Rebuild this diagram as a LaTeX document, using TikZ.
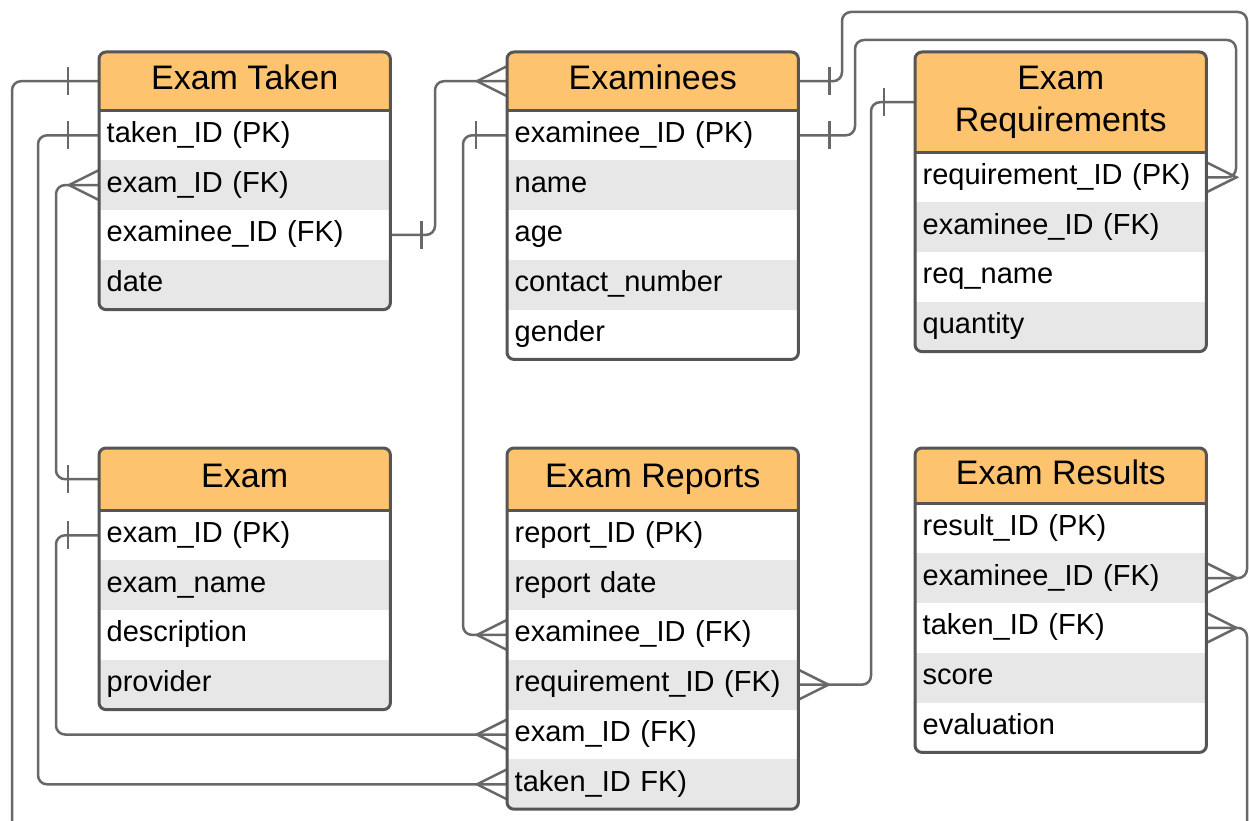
\documentclass[tikz,border=0pt]{standalone}
\usepackage{fontspec}
\setmainfont{Liberation Sans}
\usetikzlibrary{backgrounds,calc}
\definecolor{hdrc}{HTML}{FDC36E}
\definecolor{rowg}{HTML}{E7E7E7}
\definecolor{bordc}{HTML}{555555}
\definecolor{connc}{HTML}{686868}
\tikzset{
 hdr/.style={rectangle, anchor=north west, minimum width=291pt, inner sep=0pt, font=\fontsize{34}{42}\selectfont, align=center},
 hdrone/.style={hdr, text height=25pt, text depth=7.7pt},
 row/.style={rectangle, anchor=north west, minimum height=49.4pt, text width=276pt, inner xsep=7.5pt, inner ysep=0pt, text height=21pt, text depth=7pt, font=\fontsize{29}{34}\selectfont, align=left},
 tbl/.style={draw=bordc, line width=3pt, rounded corners=7pt},
 sep/.style={draw=bordc, line width=3pt},
 conn/.style={draw=connc, line width=2.5pt},
 route/.style={conn, rounded corners=9pt},
}
\newcommand\crowL[1]{\draw[conn] ([yshift=15pt]#1) -- ([xshift=-30pt]#1) -- ([yshift=-15pt]#1);}
\newcommand\crowR[1]{\draw[conn] ([yshift=15pt]#1) -- ([xshift=30pt]#1) -- ([yshift=-15pt]#1);}
\newcommand\barL[1]{\draw[conn] ([xshift=-31pt,yshift=14pt]#1) -- ([xshift=-31pt,yshift=-14pt]#1);}
\newcommand\barR[1]{\draw[conn] ([xshift=31pt,yshift=14pt]#1) -- ([xshift=31pt,yshift=-14pt]#1);}
\begin{document}
\begin{tikzpicture}[x=1pt,y=-1pt]
\useasboundingbox (0,0) rectangle (1249,821);
\clip (0,0) rectangle (1249,821);
% lanes
\coordinate (laneA) at (12,0);
\coordinate (laneB) at (38,0);
\coordinate (laneC) at (56,0);
\coordinate (laneD) at (435,0);
\coordinate (laneE) at (463,0);
\coordinate (laneF) at (842,0);
\coordinate (laneG) at (855,0);
\coordinate (laneH) at (871,0);
\coordinate (laneJ) at (1236,0);
\coordinate (laneI) at (1247,0);
\coordinate (railT) at (0,12);
\coordinate (railU) at (0,40);
\coordinate (bot) at (0,870);

% Exam Taken
\node[hdrone, minimum height=58pt] (et-h) at (99,52) {Exam Taken};
\node[row] (et-1) at (et-h.south west) {taken\_ID (PK)};
\node[row] (et-2) at (et-1.south west) {exam\_ID (FK)};
\node[row] (et-3) at (et-2.south west) {examinee\_ID (FK)};
\node[row] (et-4) at (et-3.south west) {date};
% Examinees
\node[hdrone, minimum height=58pt] (em-h) at (507,52) {Examinees};
\node[row] (em-1) at (em-h.south west) {examinee\_ID (PK)};
\node[row] (em-2) at (em-1.south west) {name};
\node[row] (em-3) at (em-2.south west) {age};
\node[row] (em-4) at (em-3.south west) {contact\_number};
\node[row] (em-5) at (em-4.south west) {gender};
% Exam Requirements
\node[hdr, minimum height=100pt] (rq-h) at (915,52) {Exam\\Requirements};
\node[row] (rq-1) at (rq-h.south west) {requirement\_ID (PK)};
\node[row] (rq-2) at (rq-1.south west) {examinee\_ID (FK)};
\node[row] (rq-3) at (rq-2.south west) {req\_name};
\node[row] (rq-4) at (rq-3.south west) {quantity};
% Exam
\node[hdrone, minimum height=62pt] (ex-h) at (99,448) {Exam};
\node[row] (ex-1) at (ex-h.south west) {exam\_ID (PK)};
\node[row] (ex-2) at (ex-1.south west) {exam\_name};
\node[row] (ex-3) at (ex-2.south west) {description};
\node[row] (ex-4) at (ex-3.south west) {provider};
% Exam Reports
\node[hdrone, minimum height=62pt] (rp-h) at (507,448) {Exam Reports};
\node[row] (rp-1) at (rp-h.south west) {report\_ID (PK)};
\node[row] (rp-2) at (rp-1.south west) {report date};
\node[row] (rp-3) at (rp-2.south west) {examinee\_ID (FK)};
\node[row] (rp-4) at (rp-3.south west) {requirement\_ID (FK)};
\node[row] (rp-5) at (rp-4.south west) {exam\_ID (FK)};
\node[row] (rp-6) at (rp-5.south west) {taken\_ID FK)};
% Exam Results
\node[hdrone, minimum height=55pt] (rs-h) at (915,448) {Exam Results};
\node[row] (rs-1) at (rs-h.south west) {result\_ID (PK)};
\node[row] (rs-2) at (rs-1.south west) {examinee\_ID (FK)};
\node[row] (rs-3) at (rs-2.south west) {taken\_ID (FK)};
\node[row] (rs-4) at (rs-3.south west) {score};
\node[row] (rs-5) at (rs-4.south west) {evaluation};

\begin{scope}[on background layer]
 \begin{scope}
  \clip[rounded corners=7pt] (et-h.north west) rectangle (et-4.south east);
  \fill[white] (et-h.north west) rectangle (et-4.south east);
  \fill[hdrc] (et-h.north west) rectangle (et-h.south east);
  \fill[rowg] (et-2.north west) rectangle (et-2.south east);
  \fill[rowg] (et-4.north west) rectangle (et-4.south east);
 \end{scope}
 \begin{scope}
  \clip[rounded corners=7pt] (em-h.north west) rectangle (em-5.south east);
  \fill[white] (em-h.north west) rectangle (em-5.south east);
  \fill[hdrc] (em-h.north west) rectangle (em-h.south east);
  \fill[rowg] (em-2.north west) rectangle (em-2.south east);
  \fill[rowg] (em-4.north west) rectangle (em-4.south east);
 \end{scope}
 \begin{scope}
  \clip[rounded corners=7pt] (rq-h.north west) rectangle (rq-4.south east);
  \fill[white] (rq-h.north west) rectangle (rq-4.south east);
  \fill[hdrc] (rq-h.north west) rectangle (rq-h.south east);
  \fill[rowg] (rq-2.north west) rectangle (rq-2.south east);
  \fill[rowg] (rq-4.north west) rectangle (rq-4.south east);
 \end{scope}
 \begin{scope}
  \clip[rounded corners=7pt] (ex-h.north west) rectangle (ex-4.south east);
  \fill[white] (ex-h.north west) rectangle (ex-4.south east);
  \fill[hdrc] (ex-h.north west) rectangle (ex-h.south east);
  \fill[rowg] (ex-2.north west) rectangle (ex-2.south east);
  \fill[rowg] (ex-4.north west) rectangle (ex-4.south east);
 \end{scope}
 \begin{scope}
  \clip[rounded corners=7pt] (rp-h.north west) rectangle (rp-6.south east);
  \fill[white] (rp-h.north west) rectangle (rp-6.south east);
  \fill[hdrc] (rp-h.north west) rectangle (rp-h.south east);
  \fill[rowg] (rp-2.north west) rectangle (rp-2.south east);
  \fill[rowg] (rp-4.north west) rectangle (rp-4.south east);
  \fill[rowg] (rp-6.north west) rectangle (rp-6.south east);
 \end{scope}
 \begin{scope}
  \clip[rounded corners=7pt] (rs-h.north west) rectangle (rs-5.south east);
  \fill[white] (rs-h.north west) rectangle (rs-5.south east);
  \fill[hdrc] (rs-h.north west) rectangle (rs-h.south east);
  \fill[rowg] (rs-2.north west) rectangle (rs-2.south east);
  \fill[rowg] (rs-4.north west) rectangle (rs-4.south east);
 \end{scope}
\end{scope}

% connectors
\draw[route] (et-h.west) -- (et-h.west -| laneA) -- (laneA |- bot) -- (laneI |- bot) -- (rs-3.east -| laneI) -- (rs-3.east);
\draw[route] (et-1.west) -- (et-1.west -| laneB) -- (laneB |- rp-6.west) -- (rp-6.west);
\draw[route] (et-2.west) -- (et-2.west -| laneC) -- (laneC |- ex-h.west) -- (ex-h.west);
\draw[route] (ex-1.west) -- (ex-1.west -| laneC) -- (laneC |- rp-5.west) -- (rp-5.west);
\draw[route] (et-3.east) -- (et-3.east -| laneD) -- (laneD |- em-h.west) -- (em-h.west);
\draw[route] (em-1.west) -- (em-1.west -| laneE) -- (laneE |- rp-3.west) -- (rp-3.west);
\draw[route] (em-h.east) -- (em-h.east -| laneF) -- (laneF |- railT) -- (laneI |- railT) -- (laneI |- rs-2.east) -- (rs-2.east);
\draw[route] (em-1.east) -- (em-1.east -| laneG) -- (laneG |- railU) -- (laneJ |- railU) -- (laneJ |- rq-1.east) -- (rq-1.east);
\draw[route] (rq-h.west) -- (rq-h.west -| laneH) -- (laneH |- rp-4.east) -- (rp-4.east);

% markers
\barL{et-h.west}
\barL{et-1.west}
\crowL{et-2.west}
\barR{et-3.east}
\barL{ex-h.west}
\barL{ex-1.west}
\crowL{rp-3.west}
\crowL{rp-5.west}
\crowL{rp-6.west}
\crowR{rp-4.east}
\crowL{em-h.west}
\barL{em-1.west}
\barR{em-h.east}
\barR{em-1.east}
\barL{rq-h.west}
\crowR{rq-1.east}
\crowR{rs-2.east}
\crowR{rs-3.east}

% borders
\draw[tbl] (et-h.north west) rectangle (et-4.south east);
\draw[sep] (et-h.south west) -- (et-h.south east);
\draw[tbl] (em-h.north west) rectangle (em-5.south east);
\draw[sep] (em-h.south west) -- (em-h.south east);
\draw[tbl] (rq-h.north west) rectangle (rq-4.south east);
\draw[sep] (rq-h.south west) -- (rq-h.south east);
\draw[tbl] (ex-h.north west) rectangle (ex-4.south east);
\draw[sep] (ex-h.south west) -- (ex-h.south east);
\draw[tbl] (rp-h.north west) rectangle (rp-6.south east);
\draw[sep] (rp-h.south west) -- (rp-h.south east);
\draw[tbl] (rs-h.north west) rectangle (rs-5.south east);
\draw[sep] (rs-h.south west) -- (rs-h.south east);
\end{tikzpicture}
\end{document}
